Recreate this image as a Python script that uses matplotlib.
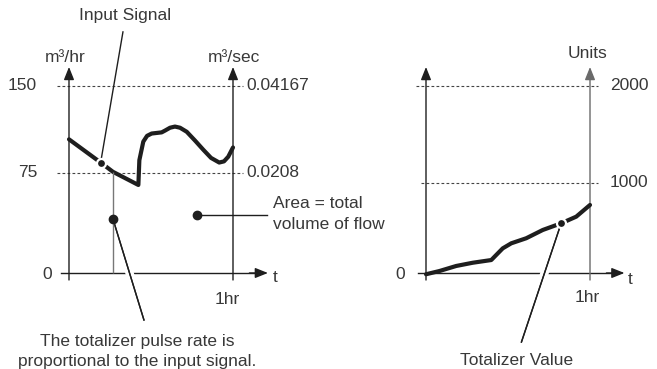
import matplotlib
matplotlib.use("Agg")
import matplotlib.pyplot as plt
import matplotlib.patheffects as pe
import numpy as np

plt.rcParams['font.family'] = ['Liberation Sans', 'DejaVu Sans']

# input signal (m3/hr) over one hour
flow_t = [0.0, 0.193, 0.268, 0.423, 0.429, 0.453, 0.476, 0.504, 0.565, 0.585, 0.616,
          0.646, 0.677, 0.718, 0.768, 0.819, 0.866, 0.916, 0.945, 0.971, 1.0]
flow_v = [104, 84, 76, 66, 86, 102, 107, 109, 110, 111.5, 114,
          115, 114, 110.5, 103, 95, 88, 84, 85, 89, 97]
flow_levels = [75, 150]
flow_left_labels = ['75', '150']
flow_right_labels = ['0.0208', '0.04167']

# totalizer value (units) over one hour
total_t = [0.0, 0.082, 0.184, 0.285, 0.398, 0.428, 0.468, 0.520, 0.611, 0.712, 0.824, 0.916, 1.0]
total_v = [-14, 22, 78, 114, 144, 200, 274, 330, 386, 478, 552, 626, 756]
total_levels = [1000, 2000]
total_labels = ['1000', '2000']

ink = '#1e1e1e'
txt = '#383838'
fs = 12.5


# the drawing is not to scale: piecewise linear y scales
def flow_fwd(v):
    v = np.asarray(v, dtype=float)
    return np.where(v < 75, v * 100 / 75, 100 + (v - 75) * 87 / 75)


def flow_inv(h):
    h = np.asarray(h, dtype=float)
    return np.where(h < 100, h * 75 / 100, 75 + (h - 100) * 75 / 87)


def total_fwd(v):
    v = np.asarray(v, dtype=float)
    return np.where(v < 1000, v * 0.09, 90 + (v - 1000) * 0.097)


def total_inv(h):
    h = np.asarray(h, dtype=float)
    return np.where(h < 90, h / 0.09, 1000 + (h - 90) / 0.097)


def arrow(ax, start, end, color=ink):
    ax.annotate('', xy=end, xytext=start,
                arrowprops=dict(arrowstyle='-|>,head_length=0.55,head_width=0.22',
                                mutation_scale=14, lw=1.0, color=color,
                                shrinkA=0, shrinkB=0), annotation_clip=False)


fig = plt.figure(figsize=(6.57, 3.69), dpi=100)

# ---------------- left: input signal ----------------
ax1 = fig.add_axes([0, 0, 0.5, 1])
ax1.set_yscale('function', functions=(flow_fwd, flow_inv))
ax1.set_xlim(-0.4207, 1.5823)
ax1.set_ylim(-72, 224.1)
ax1.axis('off')

for lv in flow_levels:
    ax1.plot([-0.073, 1.061], [lv, lv], color='#444444', lw=0.8, ls=(0, (2.5, 2)), zorder=1)

ax1.plot([-0.049, 1.15], [0, 0], color=ink, lw=1.0, zorder=1)
arrow(ax1, (1.1, 0), (1.213, 0))
arrow(ax1, (0, -5.25), (0, 166.4))
arrow(ax1, (1, -5.25), (1, 166.4))

ax1.plot(flow_t, flow_v, color=ink, lw=3.0, solid_joinstyle='round',
         solid_capstyle='round', zorder=4)

# pulse rate sample line
ax1.vlines(flow_t[2], 0, flow_v[2], color='#777777', lw=1.0, zorder=5)

# input signal pointer
ax1.plot([0.329, flow_t[1]], [196.6, flow_v[1]], color=ink, lw=1.0, zorder=3)
ax1.plot(flow_t[1], flow_v[1], 'o', ms=6.5, color=ink, mec='white', mew=1.6, zorder=6)
ax1.text(0.341, 206.9, 'Input Signal', ha='center', va='baseline', fontsize=fs, color=txt)

# totalizer pulse pointer
ax1.plot([flow_t[2], 0.457], [40.5, -35.25], color=ink, lw=1.0, zorder=3,
         path_effects=[pe.withStroke(linewidth=6, foreground='white'), pe.Normal()])
ax1.plot(flow_t[2], 40.5, 'o', ms=6, color=ink, zorder=6)
ax1.text(0.415, -54.75, 'The totalizer pulse rate is', ha='center', va='baseline',
         fontsize=fs, color=txt)
ax1.text(0.415, -69.5, 'proportional to the input signal.', ha='center', va='baseline',
         fontsize=fs, color=txt)

# area pointer
ax1.plot([0.780, 1.207], [43.5, 43.5], color=ink, lw=1.0, zorder=3)
ax1.plot(0.780, 43.5, 'o', ms=6, color=ink, zorder=6)
ax1.text(1.244, 48.75, 'Area = total', ha='left', va='baseline', fontsize=fs, color=txt)
ax1.text(1.244, 33, 'volume of flow', ha='left', va='baseline', fontsize=fs, color=txt)

# axis labels
ax1.text(-0.026, 170.7, 'm³/hr', ha='center', va='baseline', fontsize=fs, color=txt)
ax1.text(1.003, 170.7, 'm³/sec', ha='center', va='baseline', fontsize=fs, color=txt)
for lv, lab in zip(flow_levels, flow_left_labels):
    ax1.text(-0.195, lv, lab, ha='right', va='center', fontsize=fs, color=txt)
for lv, lab in zip(flow_levels, flow_right_labels):
    ax1.text(1.08, lv, lab, ha='left', va='center', fontsize=fs, color=txt)
ax1.text(-0.104, -1.5, '0', ha='right', va='center', fontsize=fs, color=txt)
ax1.text(0.966, -20.25, '1hr', ha='center', va='center', fontsize=fs, color=txt)
ax1.text(1.256, -3.75, 't', ha='center', va='center', fontsize=fs, color=txt)

# ---------------- right: totalizer ----------------
ax2 = fig.add_axes([0.5, 0, 0.5, 1])
ax2.set_yscale('function', functions=(total_fwd, total_inv))
ax2.set_xlim(-0.5945, 1.4085)
ax2.set_ylim(-1066.7, 2886.6)
ax2.axis('off')

ax2.plot([-0.064, 1.046], [2000, 2000], color='#444444', lw=0.8, ls=(0, (2.5, 2)), zorder=1)
ax2.plot([-0.029, 1.046], [1000, 1000], color='#444444', lw=0.8, ls=(0, (2.5, 2)), zorder=1)

ax2.plot([-0.046, 1.15], [0, 0], color=ink, lw=1.0, zorder=1)
arrow(ax2, (1.1, 0), (1.210, 0))
arrow(ax2, (0, -78), (0, 2196))
arrow(ax2, (1, -78), (1, 2196), color='#6a6a6a')

ax2.plot(total_t, total_v, color=ink, lw=3.0, solid_joinstyle='round',
         solid_capstyle='round', zorder=4)

ax2.plot([total_t[10], 0.582], [total_v[10], -767], color=ink, lw=1.0, zorder=3,
         path_effects=[pe.withStroke(linewidth=6, foreground='white'), pe.Normal()])
ax2.plot(total_t[10], total_v[10], 'o', ms=6.5, color=ink, mec='white', mew=1.6, zorder=6)
ax2.text(0.555, -1022, 'Totalizer Value', ha='center', va='baseline', fontsize=fs, color=txt)

ax2.text(0.982, 2288.7, 'Units', ha='center', va='baseline', fontsize=fs, color=txt)
for lv, lab in zip(total_levels, total_labels):
    ax2.text(1.12, lv, lab, ha='left', va='center', fontsize=fs, color=txt)
ax2.text(-0.131, -22, '0', ha='right', va='center', fontsize=fs, color=txt)
ax2.text(0.982, -267, '1hr', ha='center', va='center', fontsize=fs, color=txt)
ax2.text(1.247, -66.7, 't', ha='center', va='center', fontsize=fs, color=txt)

fig.savefig('out.png', dpi=100)
